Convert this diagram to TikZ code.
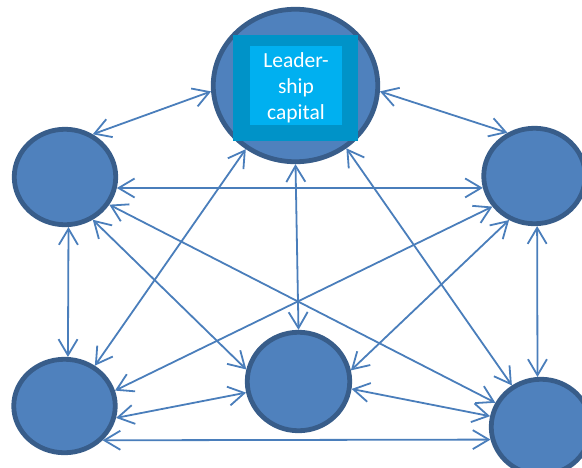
\documentclass[tikz,border=0pt]{standalone}
\usepackage{fontspec}
\setmainfont{Carlito}
\usetikzlibrary{shapes.geometric,arrows.meta}
\definecolor{discfill}{HTML}{4F81BD}
\definecolor{discedge}{HTML}{385D8A}
\definecolor{linkcol}{HTML}{4A7EBB}
\definecolor{frameout}{HTML}{0093C8}
\definecolor{framein}{HTML}{00B0F0}
\tikzset{
  disc/.style={ellipse, draw=discedge, fill=discfill, line width=4.8pt, inner sep=0pt},
  link/.style={draw=linkcol, line width=1.8pt,
    {Straight Barb[length=16pt,width=19pt]}-{Straight Barb[length=16pt,width=19pt]}},
}
\begin{document}
\begin{tikzpicture}[x=1pt,y=-1pt]
\useasboundingbox (0,0) rectangle (582,467);
% circles
\node[disc, minimum width=164.5pt, minimum height=152.5pt] (T) at (295.5,85.5) {};
\node[disc, minimum width=101.5pt, minimum height=95.5pt] (L) at (65,177) {};
\node[disc, minimum width=101.5pt, minimum height=95.5pt] (R) at (534.5,176) {};
\node[disc, minimum width=101.5pt, minimum height=93.5pt] (BL) at (64.5,406) {};
\node[disc, minimum width=102.5pt, minimum height=98.5pt] (BM) at (298.5,381.5) {};
\node[disc, minimum width=99.5pt, minimum height=95.5pt] (BR) at (541,427) {};
% label frame inside the top circle
\node[fill=frameout, minimum width=125pt, minimum height=106pt, inner sep=0pt] (F) at (295.5,88) {};
\node[fill=framein, minimum width=92pt, minimum height=79pt, inner sep=0pt] (box) at (296,85.5) {};
\node[text=white, font=\fontsize{21.5pt}{26pt}\selectfont, align=center, inner sep=0pt]
      (lbl) at (296,88) {Leader-\\ship\\capital};
% connectors
\path[link] (T.184) -- (L.57);
\path[link] (T.356) -- (R.122.5);
\path[link] (L.-12) -- (R.193);
\path[link] (L.274) -- (BL.86);
\path[link] (R.273) -- (BR.94);
\path[link] (T.232.8) -- (BL.53.8);
\path[link] (T.270) -- (BM.90);
\path[link] (T.309) -- (BR.125);
\path[link] (L.303) -- (BM.167.6);
\path[link] (L.328) -- (BR.152.4);
\path[link] (R.216.9) -- (BL.17.9);
\path[link] (R.240.3) -- (BM.12.1);
\path[link] (BL.347) -- (BM.192.6);
\path[link] (BM.352) -- (BR.168.7);
\path[link] (BL.318.3) -- (BR.194.5);
\end{tikzpicture}
\end{document}
